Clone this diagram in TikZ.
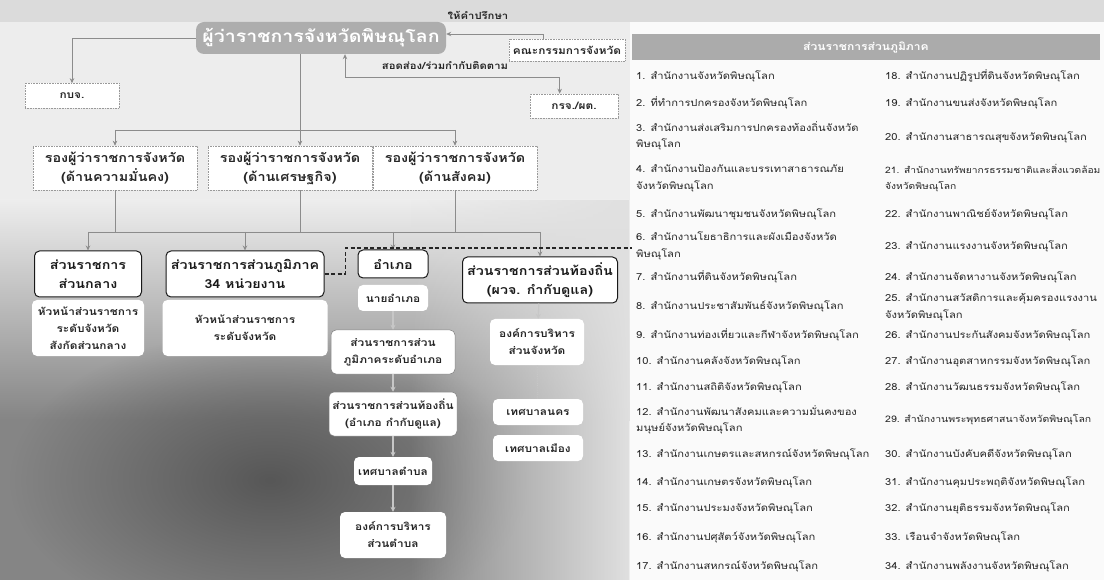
\documentclass[tikz,border=0pt]{standalone}
\usepackage{fontspec}
\setmainfont[Script=Thai, FakeStretch=1.15]{Loma}
\usetikzlibrary{arrows.meta,calc,fadings}
\tikzfading[name=fadeL, left color=transparent!100, right color=transparent!0]
\tikzfading[name=myfadeout, inner color=transparent!0, outer color=transparent!100]
\begin{document}
\begin{tikzpicture}[x=1pt,y=-1pt,
  ln/.style={draw=black!45, line width=0.7pt},
  ar/.style={ln, -{Stealth[length=5pt,width=4.5pt]}},
  arboth/.style={ln, {Stealth[length=5pt,width=4.5pt]}-{Stealth[length=5pt,width=4.5pt]}},
  lar/.style={draw=black!22, line width=1.1pt, -{Stealth[length=5pt,width=5pt]}},
  lln/.style={draw=black!22, line width=0.8pt, densely dotted},
  dsh/.style={draw=black!85, line width=1.3pt, dash pattern=on 4pt off 2.5pt},
  title/.style={fill=black!32, rounded corners=8pt, text=white, font=\bfseries\fontsize{17}{20}\selectfont, minimum width=250pt, minimum height=32pt},
  dbox/.style={draw=black!40, densely dotted, line width=0.6pt, fill=white, text=black!85, inner sep=2pt, align=center, font=\bfseries\fontsize{10.3}{12}\selectfont},
  depbox/.style={dbox, minimum width=164pt, minimum height=44pt, font=\bfseries\fontsize{12.5}{19}\selectfont},
  gbox/.style={draw=black!90, line width=1pt, rounded corners=5pt, fill=white, text=black!90, align=center, inner sep=2pt, font=\bfseries\fontsize{12.4}{19}\selectfont},
  sbox/.style={rounded corners=5pt, fill=white, text=black!85, align=center, inner sep=2pt, font=\bfseries\fontsize{10.3}{17}\selectfont},
  lbl/.style={font=\bfseries\fontsize{9.8}{12}\selectfont, text=black!85, inner sep=1pt},
  hdr/.style={fill=black!33, text=white, font=\bfseries\fontsize{10.5}{13}\selectfont, minimum width=468pt, minimum height=26pt},
  li/.style={anchor=west, inner sep=0pt, text=black!85, align=left}
]
\useasboundingbox (0,0) rectangle (1104,580);
% backgrounds
\fill[black!7] (0,0) rectangle (630,580);
\fill[black!2] (630,0) rectangle (1104,580);
\shade[top color=black!7, bottom color=black!48] (0,200) rectangle (629,420);
\fill[black!48] (0,420) rectangle (629,580);
\fill[black!66, path fading=myfadeout] (270,480) ellipse (260 and 150);
\fill[black!12, path fading=fadeL] (410,200) rectangle (629,580);
\fill[black!14] (0,0) rectangle (1104,22);

% top part
\node[title] (gov) at (321,38) {ผู้ว่าราชการจังหวัดพิษณุโลก};
\node[dbox, minimum width=94pt, minimum height=25pt] (kbj) at (72,96) {กบจ.};
\draw[ar] (gov.west) -| (kbj.north);

\node[lbl] (advice) at (478,15) {ให้คำปรึกษา};
\node[dbox, minimum width=116pt, minimum height=22pt] (cmt) at (567,50) {คณะกรรมการจังหวัด};
\draw[ar] ($(cmt.north west)+(35,0)$) |- ($(gov.east)+(0,-4)$);

\node[lbl] (insp) at (445,66) {สอดส่อง/ร่วมกำกับติดตาม};
\node[dbox, minimum width=88pt, minimum height=24pt] (krj) at (574,106) {กรจ./ผต.};
\coordinate (k1) at ($(krj.north west)+(30,0)$);
\draw[arboth] ($(gov.south)+(24,0)$) |- ($(k1)+(0,-16)$) -- (k1);

% deputies
\node[depbox] (d1) at (115,168) {รองผู้ว่าราชการจังหวัด\\(ด้านความมั่นคง)};
\node[depbox] (d2) at (290,168) {รองผู้ว่าราชการจังหวัด\\(ด้านเศรษฐกิจ)};
\node[depbox] (d3) at (455,168) {รองผู้ว่าราชการจังหวัด\\(ด้านสังคม)};
\coordinate (b1L) at (115,130);
\coordinate (b1M) at (300,130);
\coordinate (b1R) at (455,130);
\draw[ln] (gov.south -| b1M) -- (b1M);
\draw[ln] (b1L) -- (b1R);
\draw[ar] (b1L) -- (d1);
\draw[ar] (b1M) -- (d2.north -| b1M);
\draw[ar] (b1R) -- (d3);

% groups
\node[gbox, minimum width=107pt, minimum height=46pt] (g1) at (88,274) {ส่วนราชการ\\ส่วนกลาง};
\node[gbox, minimum width=158pt, minimum height=46pt] (g2) at (245,274) {ส่วนราชการส่วนภูมิภาค\\34 หน่วยงาน};
\node[gbox, minimum width=70pt, minimum height=28pt] (g3) at (393,264) {อำเภอ};
\node[gbox, minimum width=155pt, minimum height=46pt] (g4) at (540,280) {ส่วนราชการส่วนท้องถิ่น\\(ผวจ. กำกับดูแล)};

\coordinate (b2L) at (88,232);
\coordinate (b2R) at (540,232);
\draw[ln] (d1.south) -- (d1.south |- b2L);
\draw[ln] (d2.south -| b1M) -- (b1M |- b2L);
\draw[ln] (d3.south) -- (d3.south |- b2L);
\draw[ln] (b2L) -- (b2R);
\draw[ar] (b2L) -- (g1);
\draw[ar] (g2.north |- b2L) -- (g2.north);
\draw[ar] (g3.north |- b2L) -- (g3.north);
\draw[ar] (b2R) -- (g4);

\coordinate (dEnd) at (632,248);
\draw[dsh] (g2.east) -- ($(g2.east)+(21,0)$) |- (dEnd);

% sub boxes
\node[sbox, minimum width=112pt, minimum height=56pt] (s1) at (88,328) {หัวหน้าส่วนราชการ\\ระดับจังหวัด\\สังกัดส่วนกลาง};
\node[sbox, minimum width=165pt, minimum height=56pt] (s2) at (245,328) {หัวหน้าส่วนราชการ\\ระดับจังหวัด};

\node[sbox, minimum width=70pt, minimum height=26pt] (a1) at (393,298) {นายอำเภอ};
\node[sbox, minimum width=124pt, minimum height=44pt, draw=black!50, line width=0.5pt] (a2) at (393,352) {ส่วนราชการส่วน\\ภูมิภาคระดับอำเภอ};
\node[sbox, minimum width=128pt, minimum height=44pt, draw=black!50, line width=0.5pt] (a3) at (393,414) {ส่วนราชการส่วนท้องถิ่น\\(อำเภอ กำกับดูแล)};
\node[sbox, minimum width=78pt, minimum height=28pt] (a4) at (393,471) {เทศบาลตำบล};
\node[sbox, minimum width=106pt, minimum height=46pt] (a5) at (393,535) {องค์การบริหาร\\ส่วนตำบล};
\draw[lar] (a1) -- (a2);
\draw[lar] (a2) -- (a3);
\draw[lar] (a3) -- (a4);
\draw[lar] (a4) -- (a5);

\node[sbox, minimum width=94pt, minimum height=46pt] (l1) at (537,342) {องค์การบริหาร\\ส่วนจังหวัด};
\node[sbox, minimum width=90pt, minimum height=26pt] (l2) at (538,412) {เทศบาลนคร};
\node[sbox, minimum width=90pt, minimum height=26pt] (l3) at (538,448) {เทศบาลเมือง};
\draw[lar] (g4) -- (l1);
\draw[lln] (l1) -- (l2);

% right panel
\node[hdr] (hdr) at (866,47) {ส่วนราชการส่วนภูมิภาค};
\foreach \n/\yy/\fs/\t in {
 1/76/9.7/{1. สำนักงานจังหวัดพิษณุโลก},
 2/103/9.7/{2. ที่ทำการปกครองจังหวัดพิษณุโลก},
 3/136/9.7/{3. สำนักงานส่งเสริมการปกครองท้องถิ่นจังหวัด\\พิษณุโลก},
 4/178/9.7/{4. สำนักงานป้องกันและบรรเทาสาธารณภัย\\จังหวัดพิษณุโลก},
 5/214/9.7/{5. สำนักงานพัฒนาชุมชนจังหวัดพิษณุโลก},
 6/246/9.7/{6. สำนักงานโยธาธิการและผังเมืองจังหวัด\\พิษณุโลก},
 7/277/9.7/{7. สำนักงานที่ดินจังหวัดพิษณุโลก},
 8/306/9.7/{8. สำนักงานประชาสัมพันธ์จังหวัดพิษณุโลก},
 9/335/9.7/{9. สำนักงานท่องเที่ยวและกีฬาจังหวัดพิษณุโลก},
 10/361/9.7/{10. สำนักงานคลังจังหวัดพิษณุโลก},
 11/387/9.7/{11. สำนักงานสถิติจังหวัดพิษณุโลก},
 12/420/9.7/{12. สำนักงานพัฒนาสังคมและความมั่นคงของ\\มนุษย์จังหวัดพิษณุโลก},
 13/454/9.7/{13. สำนักงานเกษตรและสหกรณ์จังหวัดพิษณุโลก},
 14/482/9.7/{14. สำนักงานเกษตรจังหวัดพิษณุโลก},
 15/508/9.7/{15. สำนักงานประมงจังหวัดพิษณุโลก},
 16/537/9.7/{16. สำนักงานปศุสัตว์จังหวัดพิษณุโลก},
 17/566/9.7/{17. สำนักงานสหกรณ์จังหวัดพิษณุโลก}}
 {\node[li, font=\fontsize{\fs}{16.5}\selectfont] (i\n) at (636,\yy) {\t};}
\foreach \n/\yy/\fs/\t in {
 18/76/9.7/{18. สำนักงานปฏิรูปที่ดินจังหวัดพิษณุโลก},
 19/103/9.7/{19. สำนักงานขนส่งจังหวัดพิษณุโลก},
 20/137/9.7/{20. สำนักงานสาธารณสุขจังหวัดพิษณุโลก},
 21/178/8.9/{21. สำนักงานทรัพยากรธรรมชาติและสิ่งแวดล้อม\\จังหวัดพิษณุโลก},
 22/214/9.7/{22. สำนักงานพาณิชย์จังหวัดพิษณุโลก},
 23/246/9.7/{23. สำนักงานแรงงานจังหวัดพิษณุโลก},
 24/277/9.7/{24. สำนักงานจัดหางานจังหวัดพิษณุโลก},
 25/307/9.7/{25. สำนักงานสวัสดิการและคุ้มครองแรงงาน\\จังหวัดพิษณุโลก},
 26/335/9.7/{26. สำนักงานประกันสังคมจังหวัดพิษณุโลก},
 27/361/9.7/{27. สำนักงานอุตสาหกรรมจังหวัดพิษณุโลก},
 28/387/9.7/{28. สำนักงานวัฒนธรรมจังหวัดพิษณุโลก},
 29/420/9.1/{29. สำนักงานพระพุทธศาสนาจังหวัดพิษณุโลก},
 30/454/9.7/{30. สำนักงานบังคับคดีจังหวัดพิษณุโลก},
 31/482/9.7/{31. สำนักงานคุมประพฤติจังหวัดพิษณุโลก},
 32/508/9.7/{32. สำนักงานยุติธรรมจังหวัดพิษณุโลก},
 33/537/9.7/{33. เรือนจำจังหวัดพิษณุโลก},
 34/566/9.7/{34. สำนักงานพลังงานจังหวัดพิษณุโลก}}
 {\node[li, font=\fontsize{\fs}{16.5}\selectfont] (i\n) at (885,\yy) {\t};}
\end{tikzpicture}
\end{document}
